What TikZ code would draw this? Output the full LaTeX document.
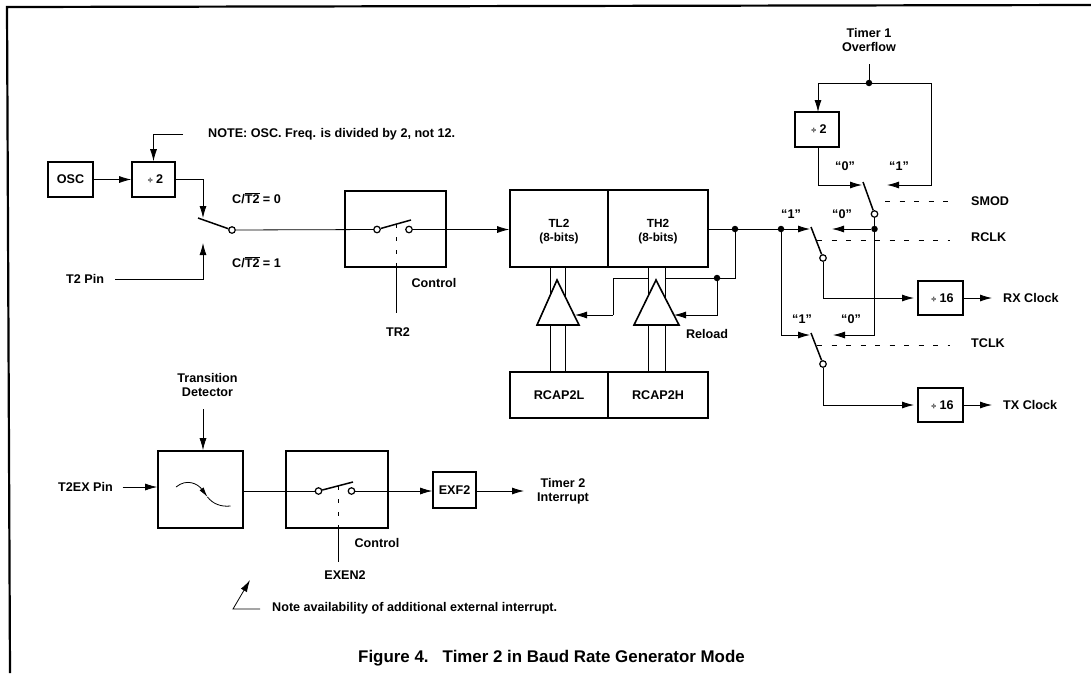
\documentclass[tikz,border=0pt]{standalone}
\usepackage{fontspec}
\setmainfont{Liberation Sans}
\usetikzlibrary{arrows.meta}

\tikzset{
  blk/.style={draw, line width=1.6pt, inner sep=0pt, font=\lbl},
  lab/.style={inner sep=0pt, font=\lbl},
  wire/.style={line width=0.8pt},
  arr/.style={wire, -{Latex[length=12pt,width=7pt]}},
  ctl/.style={line width=0.8pt, dash pattern=on 5pt off 9.5pt},
  gatedash/.style={line width=0.8pt, dash pattern=on 3.5pt off 9.5pt},
  sw/.style={line width=1.5pt},
  contact/.style={circle, draw, line width=1.2pt, fill=white, inner sep=0pt, minimum size=6.5pt},
  dot/.style={circle, fill, inner sep=0pt, minimum size=6.5pt},
}
\newcommand{\lbl}{\fontsize{12.6}{14}\selectfont\bfseries}
\newcommand{\dv}{\hspace*{4pt}{\fontsize{9}{10}\selectfont ÷}}

\begin{document}
\begin{tikzpicture}[x=1pt, y=-1pt, line cap=butt, line join=miter]

  %% page frame
  \path[use as bounding box] (0,0) rectangle (1091,673);
  \coordinate (framea) at (10,673);
  \coordinate (frameb) at (7,7);
  \coordinate (framec) at (1091,5);
  \draw[line width=2.2pt] (framea) -- (frameb) -- (framec);

  %% ==== top left: oscillator and counter gate ====
  \node[blk, minimum width=45pt, minimum height=35pt] (osc) at (70.5,179.5) {OSC};
  \node[blk, minimum width=43pt, minimum height=35pt] (divA) at (153.5,179.5) {\dv\ 2};
  \node[blk, minimum width=101pt, minimum height=76pt] (gateA) at (395.5,229) {};
  \node[lab, anchor=west] (note) at (208,134) {NOTE: OSC. Freq. is divided by 2, not 12.};
  \node[lab, anchor=west] (tpin) at (66,279) {T2 Pin};
  \node[lab, anchor=west] (ctA) at (232,198) {C/$\overline{\mbox{T2}}$ = 0};
  \node[lab, anchor=west] (ctB) at (232,262) {C/$\overline{\mbox{T2}}$ = 1};
  \node[lab] (ctrlA) at (434,283) {Control};
  \node[lab] (trtwo) at (398,332) {TR2};

  \coordinate (notestart) at (183,134);
  \coordinate (divAtop) at (divA.north);
  \draw[arr] (notestart) -| (divAtop);
  \draw[arr] (osc) -- (divA);

  \coordinate (armAtop) at (198,218);
  \node[contact] (armAend) at (232,230) {};
  \coordinate (inAtop) at (203,218);
  \coordinate (inAbot) at (203,243);
  \coordinate (tpinend) at (115,279);
  \draw[arr] (divA.east) -| (inAtop);
  \draw[arr] (tpinend) -| (inAbot);
  \draw[sw] (armAtop) -- (armAend);

  \node[contact] (gAl) at (377,229.5) {};
  \node[contact] (gAr) at (409,229.5) {};
  \coordinate (gAtip) at (411,220);
  \coordinate (gAdash) at (396,224);
  \coordinate (gAbot) at (396,267);
  \coordinate (gAend) at (396,313);
  \draw[sw] (gAl) -- (gAtip);
  \draw[gatedash] (gAdash) -- (gAbot);
  \draw[wire] (gAbot) -- (gAend);
  \draw[wire] (armAend) -- (gAl);

  %% ==== timer registers and reload ====
  \node[blk, minimum width=98pt, minimum height=77pt, align=center, font=\fontsize{11.8}{14}\selectfont\bfseries] (tl) at (559,228.5) {\rule{0pt}{14pt}TL2\\(8-bits)};
  \node[blk, minimum width=100pt, minimum height=77pt, align=center, font=\fontsize{11.8}{14}\selectfont\bfseries] (th) at (658,228.5) {\rule{0pt}{14pt}TH2\\(8-bits)};
  \node[blk, minimum width=98pt, minimum height=46pt] (rl) at (559,395) {RCAP2L};
  \node[blk, minimum width=100pt, minimum height=46pt] (rh) at (658,395) {RCAP2H};
  \draw[arr] (gAr) -- (tl.west |- gAr);

  % the paired lines run under the buffers
  \foreach \xa/\regA/\regB in {550/tl/rl, 565/tl/rl, 648/th/rh, 665/th/rh}
    \draw[wire] (\regA.south -| {\xa,0}) -- (\regB.north -| {\xa,0});

  \coordinate (bufLa) at (557,280);
  \coordinate (bufLb) at (579,325);
  \coordinate (bufLc) at (537,325);
  \coordinate (bufHa) at (656,280);
  \coordinate (bufHb) at (679,325);
  \coordinate (bufHc) at (634,325);
  \draw[line width=1.6pt, fill=white] (bufLa) -- (bufLb) -- (bufLc) -- cycle;
  \draw[line width=1.6pt, fill=white] (bufHa) -- (bufHb) -- (bufHc) -- cycle;

  \node[dot] (jA) at (735,229) {};
  \node[dot] (jB) at (781,229) {};
  \node[dot] (jC) at (717,278) {};
  \coordinate (relA) at (665,278);
  \coordinate (relB) at (648,278);
  \coordinate (relC) at (613,278);
  \coordinate (relD) at (613,315);
  \coordinate (tipL) at (575,315);
  \coordinate (tipH) at (674,315);
  \draw[wire] (th.east |- jA) -- (jA) -- (jB);
  \draw[wire] (jA) |- (jC);
  \draw[wire] (jC) -- (relA);
  \draw[wire] (relB) -- (relC) -- (relD);
  \draw[arr] (relD) -- (tipL);
  \draw[arr] (jC) |- (tipH);
  \node[lab] (reload) at (707,334) {Reload};

  %% ==== baud rate switches ====
  \node[lab, align=center] (tmrone) at (869,40) {Timer 1\\Overflow};
  \node[blk, minimum width=44pt, minimum height=35pt] (divB) at (817,129.5) {\dv\ 2};
  \coordinate (ovtop) at (869,64);
  \node[dot] (ovj) at (869,83) {};
  \coordinate (ovleft) at (818,83);
  \coordinate (ovtip) at (818,112);
  \coordinate (ovright) at (931,83);
  \coordinate (ovrbot) at (931,185);
  \coordinate (smodB) at (887,185);
  \coordinate (divBout) at (818,147);
  \coordinate (divBbot) at (818,185);
  \coordinate (smodA) at (862,185);
  \draw[wire] (ovtop) -- (ovj);
  \draw[arr] (ovj) -- (ovleft) -- (ovtip);
  \draw[arr] (ovj) -- (ovright) -- (ovrbot) -- (smodB);
  \draw[arr] (divBout) -- (divBbot) -- (smodA);

  \coordinate (armBtop) at (863,182);
  \node[contact] (armBend) at (874.5,214) {};
  \draw[sw] (armBtop) -- (armBend);
  \node[dot] (jD) at (874.5,229) {};
  \draw[wire] (armBend) -- (jD);

  \coordinate (armCtop) at (811,227);
  \node[contact] (armCend) at (823,258) {};
  \coordinate (armDtop) at (811,333);
  \node[contact] (armDend) at (823,364) {};
  \draw[sw] (armCtop) -- (armCend);
  \draw[sw] (armDtop) -- (armDend);

  \coordinate (tipCa) at (810,229);
  \coordinate (tipCb) at (832,229);
  \coordinate (tipDa) at (810,335);
  \coordinate (tipDb) at (833,335);
  \coordinate (jBbot) at (781,335);
  \coordinate (jDbot) at (874.5,335);
  \draw[arr] (jB) -- (tipCa);
  \draw[arr] (jD) -- (tipCb);
  \draw[arr] (jB) -- (jBbot) -- (tipDa);
  \draw[arr] (jD) -- (jDbot) -- (tipDb);

  \node[blk, minimum width=45pt, minimum height=34pt] (divR) at (940.5,298) {\dv\ 16};
  \node[blk, minimum width=45pt, minimum height=34pt] (divT) at (940.5,405) {\dv\ 16};
  \node[lab, anchor=west] (rxclk) at (1003,298) {RX Clock};
  \node[lab, anchor=west] (txclk) at (1003,405) {TX Clock};
  \coordinate (rxend) at (992,298);
  \coordinate (txend) at (992,405);
  \coordinate (rxtip) at (914,298);
  \coordinate (txtip) at (914,405);
  \coordinate (rxbend) at (823,298);
  \coordinate (txbend) at (823,405);
  \draw[arr] (armCend) -- (rxbend) -- (rxtip);
  \draw[arr] (armDend) -- (txbend) -- (txtip);
  \draw[arr] (divR) -- (rxend);
  \draw[arr] (divT) -- (txend);

  \node[lab, anchor=west] (smod) at (971,201) {SMOD};
  \node[lab, anchor=west] (rclk) at (971,237) {RCLK};
  \node[lab, anchor=west] (tclk) at (971,343) {TCLK};
  \coordinate (dsmodA) at (885,201);
  \coordinate (dsmodB) at (950,201);
  \coordinate (drclkA) at (817,240);
  \coordinate (drclkB) at (950,240);
  \coordinate (dtclkA) at (817,345);
  \coordinate (dtclkB) at (950,345);
  \draw[ctl] (dsmodA) -- (dsmodB);
  \draw[ctl] (drclkA) -- (drclkB);
  \draw[ctl] (dtclkA) -- (dtclkB);

  \node[lab] (qa) at (845,166) {“0”};
  \node[lab] (qb) at (899,166) {“1”};
  \node[lab] (qc) at (791,214) {“1”};
  \node[lab] (qd) at (842,214) {“0”};
  \node[lab] (qe) at (802,319) {“1”};
  \node[lab] (qf) at (851,319) {“0”};

  %% ==== bottom row: T2EX path ====
  \node[lab, align=center] (trans) at (207.5,385) {Transition\\Detector};
  \node[blk, minimum width=85pt, minimum height=77pt] (det) at (200.5,489.5) {};
  \node[blk, minimum width=102pt, minimum height=77pt] (gateB) at (337,489.5) {};
  \node[blk, minimum width=43pt, minimum height=36pt] (exf) at (454.5,490) {EXF2};
  \node[lab, anchor=west] (tex) at (58,487) {T2EX Pin};
  \coordinate (transend) at (203,409);
  \coordinate (detin) at (122.5,487);
  \draw[arr] (transend) -- (det.north -| transend);
  \draw[arr] (detin) -- (det.west |- detin);

  \coordinate (slopea) at (176,487);
  \coordinate (slopeb) at (207.5,497);
  \coordinate (slopec) at (230.5,506);
  \draw[wire, -{Latex[length=10pt,width=5pt]}] (slopea) .. controls (187,478) and (198,484) .. (slopeb);
  \draw[wire] (slopeb) .. controls (213,504) and (221,507) .. (slopec);

  \node[contact] (gBl) at (318.5,491) {};
  \node[contact] (gBr) at (351.5,491) {};
  \coordinate (gBtip) at (353,482);
  \coordinate (gBdash) at (338.5,486);
  \coordinate (gBbot) at (338.5,528);
  \coordinate (gBend) at (338.5,562);
  \draw[sw] (gBl) -- (gBtip);
  \draw[gatedash] (gBdash) -- (gBbot);
  \draw[wire] (gBbot) -- (gBend);
  \draw[wire] (det.east |- gBl) -- (gBl);
  \draw[arr] (gBr) -- (exf.west |- gBr);
  \coordinate (intend) at (524,491);
  \draw[arr] (exf.east |- intend) -- (intend);
  \node[lab, align=center] (tint) at (563,491) {Timer 2\\Interrupt};
  \node[lab] (ctrlB) at (377,543) {Control};
  \node[lab] (exen) at (345,575) {EXEN2};

  \coordinate (notea) at (260,609);
  \coordinate (noteb) at (233,609);
  \coordinate (notec) at (250,580);
  \draw[arr] (notea) -- (noteb) -- (notec);
  \node[lab, anchor=west] (avail) at (272,608) {Note availability of additional external interrupt.};

  \node[inner sep=0pt, anchor=west, font=\fontsize{16.9}{20}\selectfont\bfseries] (cap) at (358,658) {Figure 4.\ \ \ Timer 2 in Baud Rate Generator Mode};
\end{tikzpicture}
\end{document}
